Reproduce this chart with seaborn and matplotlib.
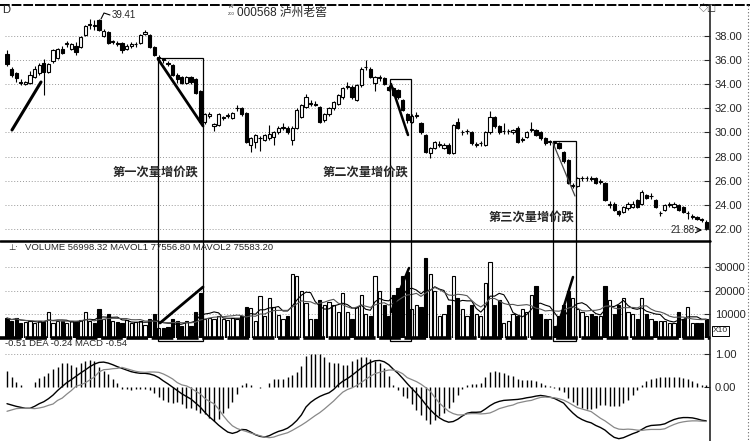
import numpy as np
import pandas as pd
import matplotlib
matplotlib.use("Agg")
import matplotlib.pyplot as plt
from matplotlib.patches import Rectangle
import seaborn as sns

sns.set_style("white")
plt.rcParams['font.family'] = ['Liberation Sans', 'Noto Sans CJK SC']

# daily candles
opens = [36.5, 35.3, 34.9, 34.2, 34.0, 34.1, 34.6, 34.9, 35.8, 35.0,
         35.9, 36.2, 36.9, 37.3, 36.9, 37.2, 37.1, 38.1, 38.9, 38.9,
         39.3, 38.0, 38.3, 37.5, 37.4, 37.4, 36.9, 37.2, 37.3, 37.4,
         38.2, 38.1, 37.1, 36.2, 36.1, 35.8, 35.6, 34.8, 34.6, 34.1,
         34.6, 34.4, 33.4, 30.9, 31.4, 30.5, 30.6, 31.2, 31.4, 31.2,
         32.0, 32.0, 31.6, 29.0, 29.2, 29.5, 29.4, 29.5, 29.6, 30.0,
         30.4, 30.4, 29.4, 30.4, 31.3, 32.1, 32.4, 32.4, 32.1, 31.0,
         31.5, 32.0, 32.4, 32.9, 33.8, 33.8, 32.7, 33.9, 35.4, 35.3,
         34.1, 34.5, 34.5, 33.8, 33.7, 33.5, 32.7, 31.5, 30.9, 31.4,
         30.8, 29.8, 28.3, 28.7, 29.0, 28.7, 29.0, 28.3, 30.9, 30.0,
         30.1, 30.0, 29.0, 29.1, 29.0, 30.0, 31.3, 30.5, 30.1, 30.1,
         30.0, 30.4, 29.4, 29.6, 30.2, 30.2, 30.0, 29.5, 29.2, 29.2,
         29.1, 28.4, 27.7, 25.6, 25.6, 26.2, 26.2, 26.2, 26.2, 25.9,
         25.8, 24.0, 24.1, 23.5, 23.4, 23.7, 23.8, 24.4, 24.1, 24.8,
         24.7, 24.4, 23.3, 23.6, 24.0, 23.8, 24.0, 23.8, 23.3, 23.0,
         23.0, 22.8, 22.6]
closes = [35.7, 34.8, 34.5, 34.1, 34.2, 34.8, 35.3, 35.6, 35.0, 35.7,
          36.8, 36.9, 36.6, 37.4, 37.3, 36.7, 37.9, 38.8, 39.0, 38.8,
          38.5, 38.4, 37.4, 37.5, 37.3, 36.8, 37.2, 37.3, 37.3, 38.1,
          38.3, 37.1, 36.4, 36.2, 36.0, 35.7, 34.8, 34.4, 34.1, 34.6,
          34.2, 33.3, 30.9, 31.5, 31.5, 30.7, 31.5, 31.2, 31.4, 31.6,
          32.0, 31.5, 29.2, 29.5, 29.8, 29.5, 29.8, 29.9, 30.0, 30.4,
          30.4, 30.0, 30.4, 31.9, 32.3, 32.9, 32.4, 32.3, 30.9, 31.5,
          32.0, 32.5, 33.1, 33.7, 33.8, 32.9, 33.9, 35.3, 35.4, 34.6,
          34.6, 34.5, 34.0, 33.5, 33.1, 32.9, 31.9, 31.0, 31.4, 31.4,
          30.0, 28.4, 28.7, 29.2, 29.0, 29.0, 28.3, 30.6, 30.4, 30.0,
          30.1, 29.1, 29.0, 29.1, 30.0, 31.3, 30.5, 30.0, 30.1, 30.1,
          30.2, 29.2, 29.4, 30.0, 30.2, 29.8, 29.5, 29.1, 29.2, 29.1,
          28.7, 27.6, 25.8, 25.6, 26.2, 26.2, 26.2, 26.1, 25.8, 25.9,
          24.4, 24.0, 23.6, 23.2, 23.8, 24.1, 24.1, 23.8, 25.1, 24.6,
          24.7, 23.8, 23.3, 24.0, 24.0, 24.1, 23.6, 23.4, 23.3, 23.0,
          22.8, 22.7, 22.1]
highs = [36.8, 35.4, 35.0, 34.4, 34.3, 35.1, 35.5, 35.8, 36.1, 35.8,
         36.9, 37.0, 37.2, 37.6, 37.4, 37.5, 38.0, 38.9, 39.4, 39.3,
         39.41, 38.6, 38.4, 37.7, 37.6, 37.5, 37.3, 37.5, 37.5, 38.2,
         38.5, 38.2, 37.2, 36.4, 36.2, 35.9, 35.7, 34.9, 34.7, 34.7,
         34.7, 34.5, 33.5, 31.6, 31.7, 30.8, 31.6, 31.4, 31.6, 31.7,
         32.3, 32.1, 31.7, 29.6, 29.9, 29.7, 29.9, 30.6, 30.1, 30.5,
         30.8, 30.5, 30.5, 32.0, 32.4, 33.2, 32.7, 32.6, 32.2, 31.6,
         32.1, 32.6, 33.2, 33.8, 34.2, 33.9, 34.0, 35.4, 36.0, 35.4,
         34.7, 34.8, 34.6, 33.9, 33.8, 33.6, 32.8, 31.6, 31.5, 31.7,
         30.9, 29.9, 28.8, 29.3, 29.3, 29.1, 29.1, 30.7, 31.2, 30.2,
         30.3, 30.1, 29.2, 29.3, 30.1, 31.8, 31.4, 30.6, 30.8, 30.3,
         30.3, 30.5, 29.6, 30.1, 30.9, 30.3, 30.1, 29.6, 29.4, 29.3,
         29.2, 28.5, 27.8, 25.8, 26.3, 26.4, 26.4, 26.4, 26.3, 26.1,
         25.9, 24.3, 24.2, 23.6, 23.9, 24.2, 24.3, 24.5, 25.2, 24.9,
         25.0, 24.5, 23.5, 24.1, 24.2, 24.2, 24.1, 23.9, 23.5, 23.2,
         23.1, 22.9, 22.7]
lows = [35.5, 34.6, 34.2, 33.9, 33.9, 34.0, 34.5, 34.8, 33.1, 34.9,
        35.8, 36.1, 36.5, 37.1, 36.8, 36.4, 37.0, 38.0, 38.6, 38.5,
        38.4, 37.9, 37.3, 37.3, 37.2, 36.6, 36.8, 37.0, 37.1, 37.3,
        38.1, 37.0, 36.3, 36.0, 35.8, 35.5, 34.7, 34.1, 34.0, 34.0,
        34.0, 33.2, 30.8, 30.7, 31.2, 30.1, 30.5, 31.0, 31.2, 31.1,
        31.8, 31.4, 29.1, 28.4, 28.7, 28.5, 29.3, 29.4, 29.0, 29.9,
        30.2, 29.9, 29.0, 30.3, 31.2, 32.0, 32.2, 32.2, 30.8, 30.9,
        31.4, 31.9, 32.3, 32.8, 33.6, 32.8, 32.6, 33.8, 35.2, 34.5,
        33.4, 34.3, 33.9, 33.4, 33.0, 32.8, 31.8, 30.8, 30.8, 31.2,
        29.9, 28.3, 27.9, 28.6, 28.8, 28.6, 28.2, 28.2, 30.3, 29.8,
        29.9, 29.0, 28.8, 28.9, 28.9, 29.9, 30.4, 29.9, 29.9, 29.9,
        29.9, 29.1, 29.2, 29.5, 30.0, 29.7, 29.4, 29.0, 29.0, 28.9,
        28.6, 27.5, 25.7, 25.4, 25.5, 26.0, 26.0, 26.0, 25.7, 25.7,
        24.3, 23.7, 23.5, 23.1, 23.3, 23.6, 23.7, 23.7, 24.0, 24.5,
        24.5, 23.7, 23.1, 23.5, 23.8, 23.7, 23.5, 23.3, 22.8, 22.8,
        22.7, 22.6, 21.88]

# volume, in thousands (axis shows x10 units)
volume_k = [8.3, 7.0, 8.5, 6.0, 6.5, 7.0, 6.0, 7.0, 6.5, 10.8,
            6.0, 7.0, 7.0, 6.0, 7.0, 6.5, 7.5, 10.8, 7.0, 6.0,
            12.0, 8.0, 10.0, 7.0, 6.5, 6.0, 7.5, 6.0, 6.5, 7.0,
            5.5, 8.0, 10.0, 4.0, 4.0, 4.5, 8.0, 7.0, 5.0, 7.0,
            5.0, 11.0, 19.0, 8.0, 8.5, 8.0, 9.0, 8.0, 7.5, 8.5,
            8.0, 9.0, 13.0, 12.5, 7.0, 17.5, 9.0, 17.0, 13.0, 9.5,
            8.0, 9.0, 27.0, 26.0, 20.0, 14.5, 8.0, 8.0, 16.0, 14.0,
            15.0, 14.0, 11.0, 19.0, 11.0, 8.0, 13.0, 18.0, 10.0, 9.0,
            26.0, 20.0, 14.0, 9.0, 18.0, 21.0, 26.0, 28.0, 12.0, 14.0,
            13.0, 34.0, 27.0, 20.0, 9.0, 10.0, 14.0, 26.0, 17.0, 12.0,
            9.0, 14.0, 10.0, 9.0, 23.0, 32.0, 14.0, 16.0, 6.0, 7.0,
            10.0, 9.0, 12.0, 11.0, 18.0, 22.0, 10.0, 8.0, 8.0, 5.0,
            9.0, 14.0, 20.0, 17.0, 12.0, 11.0, 9.0, 10.0, 9.0, 9.0,
            22.0, 16.0, 10.0, 14.0, 17.0, 11.0, 10.0, 8.0, 17.0, 10.0,
            8.0, 7.0, 7.0, 7.0, 6.0, 6.0, 11.0, 8.0, 13.0, 6.0,
            6.0, 6.0, 8.0]

# MACD lines
dif = [-0.52, -0.56, -0.60, -0.63, -0.66, -0.66, -0.60, -0.52, -0.46, -0.37,
       -0.26, -0.12, 0.00, 0.12, 0.21, 0.31, 0.41, 0.50, 0.60, 0.68,
       0.73, 0.74, 0.71, 0.66, 0.60, 0.55, 0.50, 0.45, 0.42, 0.40,
       0.40, 0.38, 0.34, 0.27, 0.17, 0.08, -0.02, -0.12, -0.22, -0.30,
       -0.38, -0.50, -0.62, -0.78, -0.92, -1.04, -1.17, -1.28, -1.38, -1.42,
       -1.38, -1.30, -1.31, -1.38, -1.46, -1.51, -1.53, -1.49, -1.42, -1.36,
       -1.32, -1.26, -1.16, -1.03, -0.86, -0.62, -0.48, -0.38, -0.30, -0.24,
       -0.19, -0.09, 0.05, 0.16, 0.24, 0.34, 0.45, 0.56, 0.66, 0.73,
       0.78, 0.79, 0.75, 0.66, 0.52, 0.40, 0.25, 0.09, -0.06, -0.20,
       -0.36, -0.54, -0.70, -0.84, -0.95, -1.03, -1.08, -1.06, -0.99, -0.89,
       -0.81, -0.78, -0.78, -0.77, -0.68, -0.58, -0.50, -0.45, -0.42, -0.41,
       -0.40, -0.39, -0.37, -0.34, -0.32, -0.29, -0.27, -0.29, -0.32, -0.36,
       -0.43, -0.50, -0.66, -0.80, -0.92, -1.00, -1.06, -1.10, -1.18, -1.24,
       -1.32, -1.44, -1.54, -1.58, -1.55, -1.49, -1.43, -1.38, -1.30, -1.22,
       -1.18, -1.17, -1.16, -1.13, -1.06, -1.00, -0.96, -0.94, -0.94, -0.95,
       -0.98, -1.02, -1.04]
dea = [-0.75, -0.71, -0.67, -0.66, -0.66, -0.66, -0.67, -0.65, -0.62, -0.57,
       -0.53, -0.42, -0.35, -0.23, -0.12, 0.01, 0.05, 0.11, 0.20, 0.29,
       0.44, 0.51, 0.52, 0.54, 0.55, 0.58, 0.54, 0.50, 0.46, 0.44,
       0.43, 0.44, 0.44, 0.43, 0.38, 0.31, 0.23, 0.12, 0.05, 0.02,
       -0.05, -0.14, -0.22, -0.36, -0.45, -0.52, -0.68, -0.88, -1.05, -1.19,
       -1.27, -1.32, -1.36, -1.41, -1.45, -1.49, -1.53, -1.55, -1.53, -1.48,
       -1.44, -1.40, -1.33, -1.25, -1.17, -1.08, -0.98, -0.88, -0.79, -0.68,
       -0.56, -0.44, -0.30, -0.17, -0.09, -0.04, 0.03, 0.12, 0.22, 0.31,
       0.39, 0.43, 0.47, 0.50, 0.50, 0.46, 0.39, 0.27, 0.21, 0.15,
       0.07, -0.03, -0.14, -0.33, -0.50, -0.63, -0.75, -0.82, -0.86, -0.86,
       -0.83, -0.82, -0.82, -0.83, -0.82, -0.80, -0.74, -0.67, -0.63, -0.59,
       -0.56, -0.50, -0.47, -0.44, -0.42, -0.37, -0.33, -0.32, -0.33, -0.34,
       -0.37, -0.41, -0.48, -0.56, -0.64, -0.68, -0.72, -0.76, -0.86, -0.96,
       -1.04, -1.14, -1.24, -1.29, -1.30, -1.29, -1.30, -1.32, -1.33, -1.31,
       -1.30, -1.30, -1.30, -1.28, -1.21, -1.15, -1.10, -1.07, -1.05, -1.04,
       -1.04, -1.05, -1.06]

price_ticks = [22, 24, 26, 28, 30, 32, 34, 36, 38]
vol_ticks = [10000, 20000, 30000]
macd_ticks = [0.0, 1.0]

df = pd.DataFrame({'open': opens, 'close': closes, 'high': highs, 'low': lows,
                   'vol': np.array(volume_k) * 1000, 'dif': dif, 'dea': dea})
df['i'] = np.arange(len(df))
df['up'] = df['close'] >= df['open']
df['ma1'] = df['vol'].rolling(5, min_periods=1).mean()
df['ma2'] = df['vol'].rolling(10, min_periods=1).mean()
df['macd'] = 2 * (df['dif'] - df['dea'])
face = np.where(df['up'], 'white', 'black')

W, H = 753, 441
fig = plt.figure(figsize=(W / 100, H / 100), dpi=100)


def px_axes(x0, y0, x1, y1):
    return fig.add_axes([x0 / W, 1 - y1 / H, (x1 - x0) / W, (y1 - y0) / H])


ax_p = px_axes(5, 5, 710, 241)
ax_v = px_axes(5, 241, 710, 338)
ax_m = px_axes(5, 338, 710, 441)
dotted = (0, (1, 2))

for ax in (ax_p, ax_v, ax_m):
    ax.set_xlim(-2 / 4.6, 703 / 4.6)
    ax.set_xticks([])
    ax.yaxis.tick_right()
    ax.tick_params(axis='y', direction='in', length=4, pad=3.5, labelsize=8, width=0.8)
    for s in ('left', 'top', 'bottom'):
        ax.spines[s].set_visible(False)
    ax.spines['right'].set_linewidth(1.2)
    ax.set_axisbelow(True)
    ax.set_facecolor('none')

# price panel
ax_p.set_ylim(21.0, 40.57)
ax_p.set_yticks(price_ticks)
ax_p.set_yticklabels([f"{t:.2f}" for t in price_ticks])
for t in price_ticks:
    ax_p.axhline(t, color='#999999', lw=0.7, ls=dotted, zorder=0)
body = df['close'] - df['open']
body = body.where(body.abs() > 0.05, 0.06)
ax_p.vlines(df['i'], df['low'], df['high'], color='black', lw=0.8, zorder=2)
ax_p.bar(df['i'], body, bottom=df['open'], width=0.66, color=face,
         edgecolor='black', linewidth=0.8, zorder=3)

# volume panel
ax_v.set_ylim(-200, 41060)
ax_v.set_yticks(vol_ticks)
ax_v.set_yticklabels([str(t) for t in vol_ticks])
for t in vol_ticks:
    ax_v.axhline(t, color='#999999', lw=0.7, ls=dotted, zorder=0)
ax_v.bar(df['i'], df['vol'], width=0.72, color=face, edgecolor='black', linewidth=0.8, zorder=2)
sns.lineplot(data=df, x='i', y='ma1', ax=ax_v, color='black', lw=0.8, zorder=4)
sns.lineplot(data=df, x='i', y='ma2', ax=ax_v, color='#555555', lw=0.8, zorder=4)
ax_v.set_xlabel('')
ax_v.set_ylabel('')

# MACD panel
ax_m.set_ylim(-1.65, 1.47)
ax_m.set_yticks(macd_ticks)
ax_m.set_yticklabels([f"{t:.2f}" for t in macd_ticks])
ax_m.axhline(1.0, color='#999999', lw=0.7, ls=dotted, zorder=0)
ax_m.vlines(df['i'], 0, df['macd'], color='black', lw=1.0)
sns.lineplot(data=df, x='i', y='dif', ax=ax_m, color='black', lw=1.0)
sns.lineplot(data=df, x='i', y='dea', ax=ax_m, color='#888888', lw=0.9)
ax_m.set_xlabel('')
ax_m.set_ylabel('')

# overlay in pixel space for frames and notes
ov = fig.add_axes([0, 0, 1, 1], zorder=10)
ov.set_xlim(0, W)
ov.set_ylim(H, 0)
ov.axis('off')

ov.plot([0, 750], [5, 5], color='black', lw=1.4, ls=(0, (5, 1)))
ov.plot([0, 710], [241, 241], color='black', lw=1.8)
ov.plot([0, 710], [338, 338], color='black', lw=2.6, ls=(0, (6, 1)))
ov.plot([748, 748], [5, 441], color='#666666', lw=0.8, ls=dotted)

for (x0, y0, w, h) in [(158, 58, 45, 283), (390, 79, 21, 262), (553, 141, 23, 200)]:
    ov.add_patch(Rectangle((x0, y0), w, h, fill=False, ec='black', lw=0.9))

ov.plot([158, 203], [59, 126], color='black', lw=2.0)
ov.plot([391, 408], [84, 135], color='black', lw=1.8)
ov.plot([553, 575], [143, 196], color='#444444', lw=0.9)
ov.plot([160, 203], [323, 287], color='black', lw=2.0)
ov.plot([391, 409], [312, 268], color='black', lw=1.8)
ov.plot([555, 573], [335, 277], color='black', lw=1.8)
ov.plot([12, 41], [130, 82], color='black', lw=2.2)

ov.text(2, 10, "D", fontsize=8, va='center')
ov.text(229, 7, "R", fontsize=4.5, va='center')
ov.text(228, 14, "200", fontsize=3, va='center')
ov.text(237, 13, "000568 泸州老窖", fontsize=8.5, va='center')
ov.text(699, 9, "◇□", fontsize=6.5, va='center', family=['Noto Sans CJK SC'])

ov.plot([101, 104, 110], [19, 13, 15], color='black', lw=0.8)
ov.text(112, 15, "39.41", fontsize=7, va='center')
ov.text(671, 230, "21.88", fontsize=7, va='center')
ov.annotate("", xy=(705, 230), xytext=(694, 230),
            arrowprops=dict(arrowstyle='->', color='black', lw=0.8))

cjk = ['Noto Sans CJK SC']
ov.text(155, 172, "第一次量增价跌", fontsize=8.8, fontweight='bold', ha='center', va='center', family=cjk)
ov.text(365, 172, "第二次量增价跌", fontsize=8.8, fontweight='bold', ha='center', va='center', family=cjk)
ov.text(531, 217, "第三次量增价跌", fontsize=8.8, fontweight='bold', ha='center', va='center', family=cjk)

ov.text(8, 247, "⊥·", fontsize=6, va='center', family=['DejaVu Sans'])
ov.text(25, 247, "VOLUME 56998.32 MAVOL1 77556.80 MAVOL2 75583.20", fontsize=6.8, va='center')
ov.text(5, 343, "-0.51 DEA -0.24 MACD -0.54", fontsize=6.8, va='center')
ov.text(713, 331, "X10", fontsize=6, va='center',
        bbox=dict(boxstyle='square,pad=0.15', fc='white', ec='black', lw=0.7))

fig.savefig("out.png", dpi=100)
